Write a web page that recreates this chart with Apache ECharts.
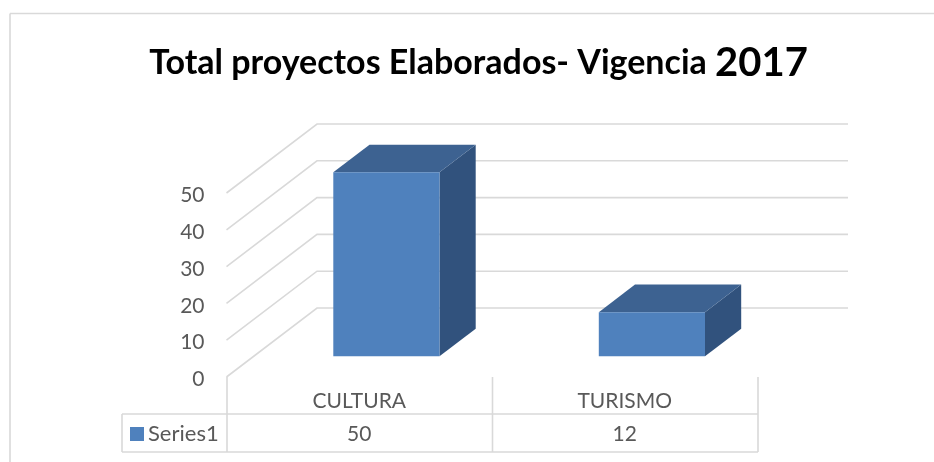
<!DOCTYPE html>
<html>
<head>
<meta charset="utf-8">
<style>
	html, body { margin: 0; padding: 0; background: #fff; }
	#main { width: 934px; height: 462px; }
</style>
</head>
<body>
<div id="main"></div>
<script src="https://cdn.jsdelivr.net/npm/echarts@6/dist/echarts.min.js"></script>
<script>
	var categories = ['CULTURA', 'TURISMO'];
	var seriesName = 'Series1';
	var seriesValues = [50, 12];
	var yTicks = [0, 10, 20, 30, 40, 50];

	// 3d look: how far the back wall is shifted from the front plane
	var depthX = 90.5, depthY = 69;
	var barStart = 0.3, barEnd = 0.7, barWidth = 0.4;
	var lineColor = '#d9d9d9', textColor = '#595959', fontName = 'Lato';

	function shift(p, f) {
		return [p[0] + depthX * f, p[1] - depthY * f];
	}

	// gridlines: side wall + back wall
	function renderWalls(params, api) {
		var tick = api.value(0);
		var half = api.size([1, 0])[0] / 2;
		var front = api.coord([0, tick]);
		var last = api.coord([categories.length - 1, tick]);
		var left = [front[0] - half, front[1]];
		var right = [last[0] + half, last[1]];
		return {
			type: 'polyline',
			shape: { points: [left, shift(left, 1), shift(right, 1)] },
			style: { fill: null, stroke: lineColor, lineWidth: 1.6 }
		};
	}

	function renderBar(params, api) {
		var c = api.coord([api.value(0), 0]);
		var t = api.coord([api.value(0), api.value(1)]);
		var w = api.size([1, 0])[0] * barWidth / 2;
		var bl = shift([c[0] - w, c[1]], barStart), br = shift([c[0] + w, c[1]], barStart);
		var tl = shift([t[0] - w, t[1]], barStart), tr = shift([t[0] + w, t[1]], barStart);
		var d = barEnd - barStart;
		return {
			type: 'group',
			children: [{
				type: 'polygon',
				shape: { points: [br, tr, shift(tr, d), shift(br, d)] },
				style: { fill: '#31527d' }
			}, {
				type: 'polygon',
				shape: { points: [tl, tr, shift(tr, d), shift(tl, d)] },
				style: { fill: '#3d6291' }
			}, {
				type: 'polygon',
				shape: { points: [bl, br, tr, tl] },
				style: { fill: '#4f81bd' }
			}]
		};
	}

	// numbers in the data table row, under each category
	function renderCell(params, api) {
		var c = api.coord([api.value(0), 0]);
		return {
			type: 'text',
			x: c[0],
			y: 434,
			style: {
				text: String(api.value(1)),
				fill: textColor,
				font: '21px ' + fontName,
				align: 'center',
				verticalAlign: 'middle'
			}
		};
	}

	function tableLine(x1, y1, x2, y2) {
		return {
			type: 'line',
			shape: { x1: x1, y1: y1, x2: x2, y2: y2 },
			style: { stroke: lineColor, lineWidth: 1.6 },
			silent: true
		};
	}

	var barData = [];
	for (var i = 0; i < categories.length; i++) {
		barData.push([i, seriesValues[i]]);
	}

	var myChart = echarts.init(document.getElementById('main'));
	var option = {
		animation: false,
		title: {
			text: '{a|Total proyectos Elaborados- Vigencia }{b|2017}',
			left: 473.5,
			top: 38,
			textAlign: 'center',
			textStyle: {
				rich: {
					a: { fontFamily: fontName, fontWeight: 'bold', fontSize: 34, color: '#000' },
					b: { fontFamily: fontName, fontWeight: 'bold', fontSize: 40, color: '#000' }
				}
			}
		},
		legend: {
			left: 130,
			top: 423,
			padding: 0,
			itemWidth: 14,
			itemHeight: 14,
			itemGap: 0,
			icon: 'rect',
			data: [seriesName],
			selectedMode: false,
			textStyle: { color: textColor, fontFamily: fontName, fontSize: 22, padding: [0, 0, 0, -1] }
		},
		grid: { left: 226.5, right: 176.5, top: 193, bottom: 85 },
		xAxis: {
			type: 'category',
			data: categories,
			axisLine: { show: false },
			axisTick: { show: false },
			axisLabel: { color: textColor, fontFamily: fontName, fontSize: 21, margin: 14 }
		},
		yAxis: {
			type: 'value',
			min: 0,
			max: 50,
			interval: 10,
			axisLine: { show: false },
			axisTick: { show: false },
			splitLine: { show: false },
			axisLabel: {
				margin: 22,
				formatter: function(val) {
					return '{v|' + val + '}';
				},
				rich: {
					v: { color: textColor, fontFamily: fontName, fontSize: 21, padding: [5, 0, 0, 0] }
				}
			}
		},
		graphic: [
			tableLine(10, 13.5, 934, 13.5),
			tableLine(10, 13.5, 10, 462),
			tableLine(122, 414, 758, 414),
			tableLine(122, 452, 758, 452),
			tableLine(122, 414, 122, 452),
			tableLine(227, 377, 227, 452),
			tableLine(492.5, 377, 492.5, 452),
			tableLine(758, 377, 758, 452)
		],
		series: [{
			type: 'custom',
			renderItem: renderWalls,
			data: yTicks,
			encode: { y: 0 },
			silent: true,
			z: 1
		}, {
			type: 'custom',
			name: seriesName,
			renderItem: renderBar,
			data: barData,
			itemStyle: { color: '#4f81bd' },
			encode: { x: 0, y: 1 },
			z: 2
		}, {
			type: 'custom',
			renderItem: renderCell,
			data: barData,
			encode: { x: 0, y: 1 },
			silent: true,
			z: 3
		}]
	};
	myChart.setOption(option);
</script>
</body>
</html>
